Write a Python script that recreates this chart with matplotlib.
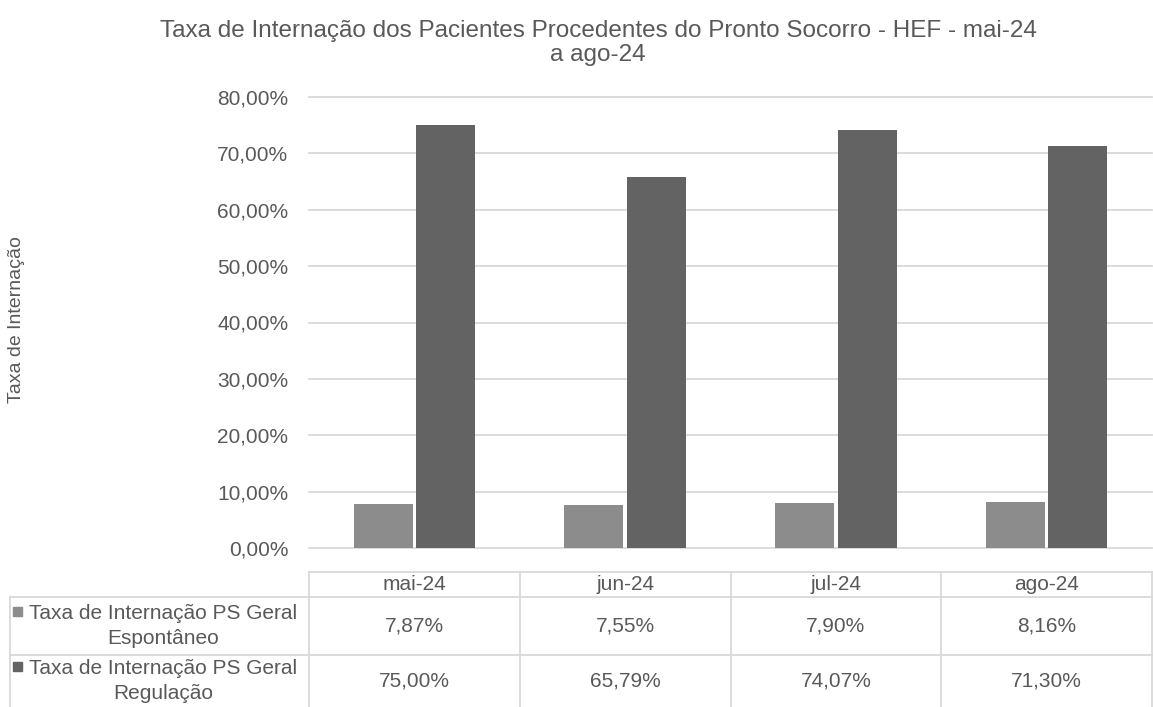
import numpy as np
import matplotlib.pyplot as plt
from matplotlib.lines import Line2D
from matplotlib.patches import Rectangle

plt.rcParams['font.family'] = ['Liberation Sans', 'DejaVu Sans']

meses = ['mai-24', 'jun-24', 'jul-24', 'ago-24']
espontaneo = [7.87, 7.55, 7.90, 8.16]
regulacao = [75.00, 65.79, 74.07, 71.30]
series_nomes = ['Taxa de Internação PS Geral\nEspontâneo', 'Taxa de Internação PS Geral\nRegulação']
yticks = [0, 10, 20, 30, 40, 50, 60, 70, 80]

cinza_claro = '#8c8c8c'
cinza_escuro = '#636363'
texto = '#595959'
grade = '#d9d9d9'
fs = 15

W, H = 1153, 707
fig = plt.figure(figsize=(W / 100, H / 100), dpi=100)

x0, x1 = 309, 1152
ytop, ybot = 97, 548
ax = fig.add_axes([x0 / W, 1 - ybot / H, (x1 - x0) / W, (ybot - ytop) / H])

x = np.arange(len(meses))
larg = 0.28
ax.bar(x - larg / 2 - 0.008, espontaneo, larg, color=cinza_claro, zorder=3)
ax.bar(x + larg / 2 + 0.008, regulacao, larg, color=cinza_escuro, zorder=3)

ax.set_xlim(-0.5, len(meses) - 0.5)
ax.set_ylim(0, 80)
ax.set_yticks(yticks)
ax.set_yticklabels(['%d,00%%' % v for v in yticks], color=texto, fontsize=fs)
ax.tick_params(axis='y', length=0, pad=15)
ax.set_xticks([])
ax.grid(axis='y', color=grade, linewidth=1.3, zorder=0)
for gl in ax.get_ygridlines():
    gl.set_clip_on(False)
for s in ax.spines.values():
    s.set_visible(False)

fig.text(17 / W, 1 - 320 / H, 'Taxa de Internação', rotation=90, ha='center', va='center',
         color=texto, fontsize=14)
fig.text(598 / W, 1 - 43 / H, 'Taxa de Internação dos Pacientes Procedentes do Pronto Socorro - HEF - mai-24\na ago-24',
         ha='center', va='center', color=texto, fontsize=17.5, linespacing=1.1)

# tabela de dados abaixo do grafico
col_w = (x1 - x0) / len(meses)
linhas = [572, 597, 655, 707]
esq = 10

def hline(y, xa, xb):
    fig.add_artist(Line2D([xa / W, xb / W], [1 - y / H, 1 - y / H], color=grade, linewidth=1.3))

def vline(x, ya, yb):
    fig.add_artist(Line2D([x / W, x / W], [1 - ya / H, 1 - yb / H], color=grade, linewidth=1.3))

hline(linhas[0], x0, x1)
hline(linhas[1], esq, x1)
hline(linhas[2], esq, x1)
vline(esq, linhas[1], linhas[3])
for i in range(len(meses) + 1):
    vline(x0 + i * col_w, linhas[0], linhas[3])

for i, m in enumerate(meses):
    cx = (x0 + (i + 0.5) * col_w) / W
    fig.text(cx, 1 - 585 / H, m, ha='center', va='center', color=texto, fontsize=fs)
    fig.text(cx, 1 - 626 / H, ('%.2f%%' % espontaneo[i]).replace('.', ','),
             ha='center', va='center', color=texto, fontsize=fs)
    fig.text(cx, 1 - 681 / H, ('%.2f%%' % regulacao[i]).replace('.', ','),
             ha='center', va='center', color=texto, fontsize=fs)

for nome, cor, yc in zip(series_nomes, [cinza_claro, cinza_escuro], [626, 681]):
    fig.add_artist(Rectangle((13 / W, 1 - (yc - 10) / H), 9 / W, 9 / H, color=cor,
                             transform=fig.transFigure))
    fig.text(163 / W, 1 - yc / H, nome, ha='center', va='center', color=texto,
             fontsize=fs, linespacing=1.45)

fig.savefig('out.png', dpi=100)
